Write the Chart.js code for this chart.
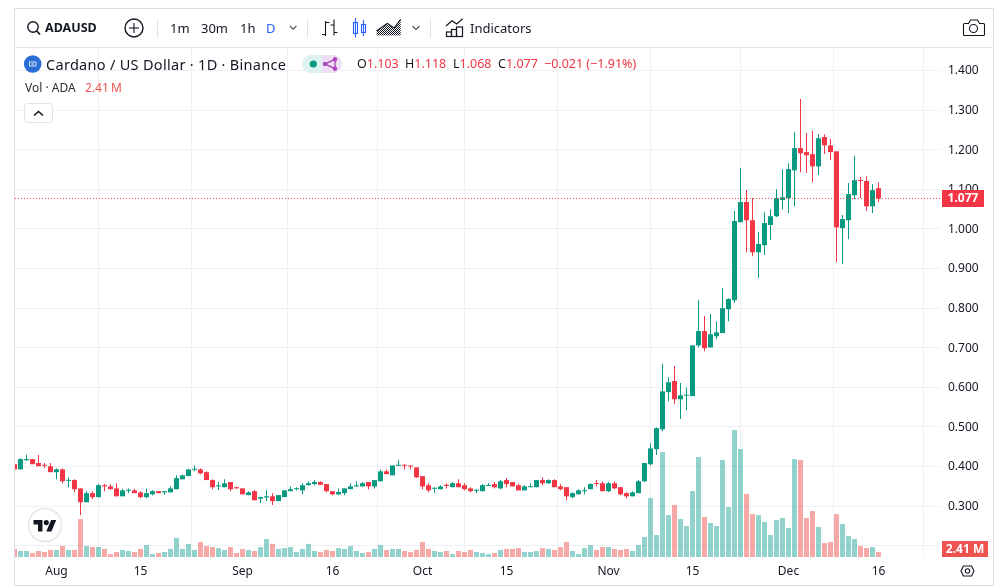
<!DOCTYPE html>
<html><head><meta charset="utf-8">
<script src="https://cdn.jsdelivr.net/npm/chart.js@4"></script>
<style>
html,body{margin:0;padding:0;background:#fff;width:1008px;height:588px;overflow:hidden}
#c{position:absolute;left:0;top:0}
svg.ov{position:absolute;left:0;top:0;pointer-events:none}
.t{position:absolute;white-space:nowrap;font-family:"Noto Sans",sans-serif;color:#131722;line-height:16px;height:16px}
.r{color:#f23645}
</style></head><body>
<canvas id="c" width="1008" height="588"></canvas>
<svg class="ov" width="1008" height="588" viewBox="0 0 1008 588">
<defs><pattern id="hatch" width="2" height="2" patternUnits="userSpaceOnUse"><rect width="1" height="1" fill="#131722"/><rect x="1" y="1" width="1" height="1" fill="#131722"/></pattern></defs>
<rect x="14.5" y="8.5" width="979" height="577" fill="none" stroke="#dcdde3"/>
<line x1="15" x2="993" y1="47.5" y2="47.5" stroke="#e0e3eb"/>
<g stroke="#e0e3eb"><line x1="157.5" x2="157.5" y1="19" y2="38"/><line x1="307.5" x2="307.5" y1="19" y2="38"/><line x1="430.5" x2="430.5" y1="19" y2="38"/></g>
<g fill="none" stroke="#131722" stroke-width="1.4">
<circle cx="33" cy="27" r="5.2"/><line x1="36.8" y1="31" x2="40" y2="34.5" stroke-width="1.8"/>
<circle cx="134" cy="28" r="9"/><line x1="129" x2="139" y1="28" y2="28" stroke-width="1.1"/><line x1="134" x2="134" y1="23" y2="33" stroke-width="1.1"/>
<path d="M290 26l3.2 3.2L296.4 26M412.5 26l3.5 3.5 3.5-3.5" stroke="#50535e" stroke-width="1.1"/>
<path d="M325.5 21v15M322 34.5h3.5M325.5 22.5h4M334 19.5v16M334 32.5h3.5M330.5 25h3.5" stroke-width="1.1"/>
<path d="M376.7 30.7l10.6-7.4 6.7 4.7 6.7-8.7" stroke-width="1.1"/>
<path d="M446 26l6-5.3 4.7 3.3 6-5.3" stroke-width="1.2"/>
<rect x="446.5" y="32" width="5" height="4.5" stroke-width="1.2"/><rect x="451.5" y="29.5" width="5" height="7" stroke-width="1.2"/><rect x="456.5" y="27" width="6" height="9.5" stroke-width="1.2"/>
<path d="M964.5 23.5h4l2-3.5h7l2 3.5h4a1 1 0 0 1 1 1v10a1 1 0 0 1-1 1h-19a1 1 0 0 1-1-1v-10a1 1 0 0 1 1-1z" stroke-width="1.1"/><circle cx="973.5" cy="28.5" r="4" stroke-width="1.1"/>
<path d="M963 571l2.4-5h8.2l2.4 5-2.4 5h-8.2z" transform="translate(-2,0)" stroke-width="1.1"/><circle cx="967.5" cy="571" r="2.2" stroke-width="1.1"/>
</g>
<path d="M376.7 35.5v-4.8l10.6-7.4 6.7 4.7 6.7-8.7v16.2z" fill="url(#hatch)"/>
<g fill="none" stroke="#2962ff" stroke-width="1.1"><rect x="353.5" y="22.5" width="4" height="11"/><line x1="355.5" x2="355.5" y1="18" y2="37.5"/><rect x="361.5" y="24.5" width="4" height="8"/><line x1="363.5" x2="363.5" y1="20" y2="36"/></g>
<circle cx="32.7" cy="64" r="8.8" fill="#2a6fd6"/><rect x="29.5" y="62" width="6.4" height="4" fill="none" stroke="#cfe0fa"/><rect x="31.5" y="63.5" width="2.4" height="1" fill="#fff"/>
<path d="M311 55h11v18h-11a9 9 0 0 1 0-18z" fill="#def3ef"/><path d="M322 55h11a9 9 0 0 1 0 18h-11z" fill="#eedff5"/>
<circle cx="313.3" cy="64" r="3.6" fill="#089981"/>
<g fill="#ab47bc" stroke="#ab47bc"><line x1="325" y1="64" x2="335" y2="59.3" stroke-width="1.4"/><line x1="325" y1="64" x2="335" y2="68.7" stroke-width="1.4"/><line x1="335" y1="59.3" x2="335" y2="68.7" stroke-width="1.4"/><circle cx="325" cy="64" r="1.8"/><circle cx="335" cy="59.3" r="1.8"/><circle cx="335" cy="68.7" r="1.8"/></g>
<rect x="24.5" y="103.5" width="28" height="19" rx="3" fill="#fff" stroke="#e0e3eb"/>
<path d="M34 115.5l4.5-4 4.5 4" fill="none" stroke="#131722" stroke-width="1.6"/>
<circle cx="45" cy="525" r="16.5" fill="#fff" stroke="#e0e3eb" stroke-width="1.3"/>
<g transform="translate(33.5,517.5) scale(.64)" fill="#131722"><path d="M14 22H7V11H0V4h14v18zM28 22h-8l7.5-18h8L28 22z"/><circle cx="20" cy="8" r="4"/></g>
</svg>
<span class="t" style="left:45px;top:20px;font-size:12.5px;font-weight:700">ADAUSD</span>
<span class="t" style="left:170px;top:20px;font-size:13px">1m</span>
<span class="t" style="left:201px;top:20px;font-size:13px">30m</span>
<span class="t" style="left:240px;top:20px;font-size:13px">1h</span>
<span class="t" style="left:266px;top:20px;font-size:13px;color:#2962ff">D</span>
<span class="t" style="left:470px;top:20px;font-size:13px">Indicators</span>
<span class="t" style="left:46px;top:56px;font-size:14.5px;letter-spacing:.3px">Cardano / US Dollar · 1D · Binance</span>
<span class="t" style="left:357px;top:56px;font-size:12.5px">O<span class="r">1.103</span></span>
<span class="t" style="left:405px;top:56px;font-size:12.5px">H<span class="r">1.118</span></span>
<span class="t" style="left:453px;top:56px;font-size:12.5px">L<span class="r">1.068</span></span>
<span class="t" style="left:498px;top:56px;font-size:12.5px">C<span class="r">1.077</span></span>
<span class="t r" style="left:544px;top:56px;font-size:12.5px">−0.021 (−1.91%)</span>
<span class="t" style="left:25px;top:80px;font-size:12px;color:#2a2e39">Vol · ADA</span>
<span class="t" style="left:85px;top:80px;font-size:12px;word-spacing:-1px;color:#ef5350">2.41 M</span>
<script>
const opens=[.406,.393,.416,.419,.409,.403,.401,.386,.393,.364,.366,.345,.310,.333,.323,.353,.350,.345,.325,.339,.340,.335,.323,.330,.338,.335,.335,.343,.368,.376,.392,.393,.386,.366,.350,.348,.361,.348,.345,.328,.338,.319,.322,.325,.313,.323,.338,.343,.340,.353,.356,.361,.356,.338,.330,.333,.343,.350,.350,.361,.350,.363,.388,.378,.402,.404,.402,.398,.376,.353,.344,.343,.354,.348,.358,.353,.345,.339,.338,.351,.356,.345,.366,.361,.353,.340,.348,.348,.366,.358,.366,.350,.348,.323,.330,.338,.343,.358,.358,.338,.358,.348,.333,.325,.333,.363,.406,.444,.494,.588,.616,.570,.579,.578,.706,.742,.701,.729,.737,.797,.820,1.017,1.068,1.022,.941,.959,1.010,1.032,1.073,1.078,1.148,1.204,1.194,1.189,1.158,1.232,1.211,1.196,1.002,1.022,1.085,1.123,1.121,1.057,1.103];
const highs=[.406,.421,.430,.420,.429,.409,.409,.396,.395,.373,.368,.345,.338,.338,.356,.356,.356,.358,.344,.345,.344,.338,.345,.340,.339,.338,.350,.378,.380,.393,.403,.396,.388,.368,.361,.368,.361,.350,.345,.338,.340,.324,.340,.333,.328,.340,.350,.348,.358,.363,.366,.363,.356,.338,.345,.345,.358,.363,.361,.361,.366,.393,.393,.403,.416,.406,.403,.398,.376,.358,.348,.353,.358,.361,.368,.358,.348,.343,.356,.358,.361,.366,.371,.361,.356,.353,.358,.366,.373,.368,.368,.356,.348,.335,.343,.348,.358,.366,.363,.361,.363,.348,.335,.338,.366,.409,.459,.499,.659,.626,.654,.611,.600,.706,.820,.780,.785,.767,.850,.825,1.045,1.153,1.098,1.078,.992,1.042,1.050,1.100,1.151,1.166,1.244,1.328,1.242,1.247,1.239,1.239,1.227,1.196,1.035,1.116,1.184,1.131,1.133,1.113,1.118];
const lows=[.393,.393,.414,.406,.401,.396,.386,.368,.358,.348,.335,.277,.310,.318,.322,.338,.342,.325,.325,.333,.333,.320,.320,.328,.333,.329,.335,.343,.368,.376,.388,.381,.366,.343,.341,.348,.338,.345,.330,.328,.315,.308,.313,.303,.313,.323,.338,.340,.330,.353,.353,.354,.335,.328,.328,.328,.343,.350,.350,.343,.345,.363,.381,.378,.402,.393,.393,.371,.343,.335,.333,.343,.345,.348,.348,.340,.335,.333,.338,.351,.345,.343,.348,.350,.340,.340,.348,.348,.353,.356,.348,.340,.315,.320,.330,.330,.343,.350,.338,.335,.343,.328,.320,.325,.333,.361,.403,.429,.489,.565,.558,.520,.542,.578,.701,.691,.701,.722,.737,.767,.813,1.017,.941,.931,.876,.934,.972,1.030,1.050,1.040,1.057,1.143,1.141,1.118,1.136,1.189,1.174,.916,.911,.974,1.075,1.078,1.045,1.040,1.068];
const closes=[.393,.419,.419,.406,.401,.402,.386,.393,.363,.366,.343,.310,.333,.323,.353,.350,.343,.325,.340,.340,.333,.323,.333,.338,.333,.338,.345,.371,.378,.393,.393,.383,.366,.348,.351,.358,.343,.345,.330,.335,.315,.323,.325,.313,.328,.340,.343,.345,.353,.358,.361,.354,.338,.330,.336,.345,.350,.353,.358,.350,.366,.388,.381,.403,.403,.402,.400,.373,.350,.340,.345,.350,.351,.358,.348,.343,.338,.340,.353,.353,.348,.363,.356,.350,.340,.350,.350,.366,.358,.366,.348,.343,.325,.333,.340,.340,.356,.356,.338,.358,.345,.330,.325,.335,.363,.409,.446,.497,.590,.613,.570,.580,.580,.706,.742,.699,.734,.739,.800,.823,1.020,1.068,1.022,.941,.962,1.015,1.032,1.078,1.080,1.151,1.204,1.191,1.186,1.158,1.229,1.211,1.194,1.004,1.025,1.088,1.123,1.121,1.057,1.098,1.077];
const volumes=[3.9,2.9,2.9,1.9,2.9,2.4,3.4,3.4,5.3,3.4,3.4,18.3,5.3,4.8,4.8,3.9,1.4,2.4,3.4,2.9,2.4,3.9,5.8,1.4,1.9,2.4,3.9,9.2,3.9,6.3,3.4,7.2,5.3,4.8,4.3,3.4,4.8,1.9,3.9,3.4,2.9,4.8,8.7,6.3,3.9,4.3,4.8,2.4,3.9,6.3,2.9,2.4,3.4,2.9,4.3,3.9,5.3,2.9,1.9,2.4,3.9,5.8,3.4,3.9,3.9,2.9,2.4,3.4,7.2,3.9,2.9,2.4,2.9,1.4,2.9,2.4,3.4,2.4,1.9,1.4,1.9,3.4,3.9,3.9,4.3,2.4,2.4,2.9,4.3,3.9,3.4,4.8,7.2,2.9,1.4,4.3,5.8,3.4,4.8,4.8,3.9,3.4,3.9,2.9,5.8,9.6,28.4,10.6,50.6,20.2,25.1,18.3,14.9,31.8,48.2,19.3,16.4,14.9,46.8,24.1,61.2,52.1,30.4,20.7,20.2,16.9,10.6,17.8,18.8,14.0,47.2,46.8,18.8,22.2,14.5,6.7,7.2,20.7,15.9,10.1,8.7,5.3,4.3,4.8,2.41];
const tickDays=[7,21,38,53,68,82,99,113,129,144];
const tickLabels=['Aug','15','Sep','16','Oct','15','Nov','15','Dec','16'];
const priceTicks=[1.4,1.3,1.2,1.1,1.0,0.9,0.8,0.7,0.6,0.5,0.4,0.3,0.2];
const lastPrice=1.077, lastPriceLabel='1.077', lastVolumeLabel='2.41 M';

const UP='#089981',DOWN='#f23645',VUP='rgba(38,166,154,.5)',VDOWN='rgba(239,83,80,.5)';
const FONT='"Noto Sans",sans-serif';
const idx=closes.map((_,i)=>i);
const isUp=i=>closes[i]>=opens[i];
const xMin=1/12,xMax=xMin+926/6;
Chart.defaults.font.family=FONT;
const badges={id:'badges',afterDraw(ch){
  const g=ch.ctx,y=Math.round(ch.scales.y.getPixelForValue(lastPrice));
  g.save();g.textAlign='center';g.textBaseline='middle';
  g.fillStyle=DOWN;g.fillRect(942,y-8,42,17);
  g.fillStyle='#fff';g.font='700 12px '+FONT;g.fillText(lastPriceLabel,963,y+.5);
  g.fillStyle='#ef5350';g.fillRect(942,541,46,16);
  g.fillStyle='#fff';g.fillText(lastVolumeLabel,965,549.5);
  g.restore();
}};
new Chart(document.getElementById('c'),{
  type:'bar',
  data:{datasets:[
    {type:'line',data:[{x:xMin,y:lastPrice},{x:xMax,y:lastPrice}],borderColor:DOWN,borderWidth:1,borderDash:[1,2],pointRadius:0,order:0,yAxisID:'y'},
    {data:idx.map(i=>({x:i,y:[opens[i],closes[i]]})),backgroundColor:idx.map(i=>isUp(i)?UP:DOWN),barThickness:5,maxBarThickness:5,minBarLength:1,grouped:false,order:1,yAxisID:'y',inflateAmount:0,borderWidth:0},
    {data:idx.map(i=>({x:i,y:[lows[i],highs[i]]})),backgroundColor:idx.map(i=>isUp(i)?UP:DOWN),barThickness:1,maxBarThickness:1,grouped:false,order:2,yAxisID:'y',inflateAmount:0,borderWidth:0},
    {data:idx.map(i=>({x:i,y:volumes[i]})),backgroundColor:idx.map(i=>isUp(i)?VUP:VDOWN),barThickness:5,maxBarThickness:5,grouped:false,order:3,yAxisID:'v',inflateAmount:0,borderWidth:0}
  ]},
  options:{
    responsive:false,animation:false,devicePixelRatio:1,
    layout:{padding:{left:15,top:48,right:15,bottom:3}},
    plugins:{legend:{display:false},tooltip:{enabled:false}},
    scales:{
      x:{type:'linear',min:xMin,max:xMax,offset:false,
        afterBuildTicks:a=>{a.ticks=tickDays.map(v=>({value:v}))},
        afterFit:a=>{a.height=28},
        border:{display:false},
        grid:{color:'#f0f1f5',drawTicks:false},
        ticks:{autoSkip:false,maxRotation:0,padding:7,color:'#131722',font:{size:12},callback:(v,i)=>tickLabels[i]}},
      y:{type:'linear',position:'right',min:0.1718,max:1.4568,
        afterBuildTicks:a=>{a.ticks=priceTicks.map(v=>({value:v}))},
        afterFit:a=>{a.width=52},
        border:{display:false},
        grid:{color:'#f0f1f5',drawTicks:false},
        ticks:{autoSkip:false,padding:7,labelOffset:0.4,color:'#131722',font:{size:12},callback:v=>v<0.25?'':v.toFixed(3)}},
      v:{type:'linear',display:false,min:0,max:245.4}
    }
  },
  plugins:[badges]
});
</script>
</body></html>
